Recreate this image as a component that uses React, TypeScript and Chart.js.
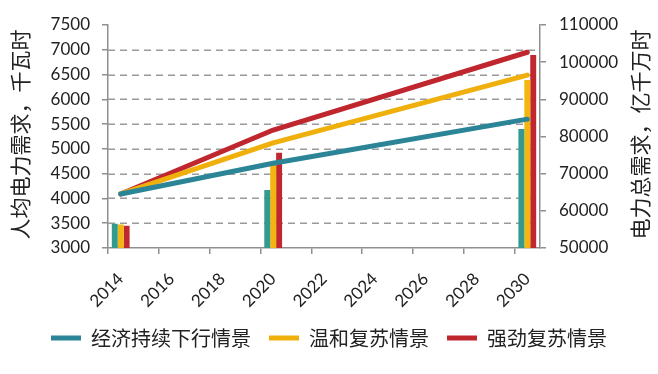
import React, { useEffect, useRef } from 'react';
import { Chart, registerables } from 'chart.js';

Chart.register(...registerables);

// ---- data ----
const categories = ['2014', '2015', '2016', '2017', '2018', '2019', '2020', '2021', '2022', '2023', '2024', '2025', '2026', '2027', '2028', '2029', '2030'];
const dataYears = ['2014', '2020', '2030'];
const seriesNames = ['经济持续下行情景', '温和复苏情景', '强劲复苏情景'];

// per-capita demand (left axis, kWh) – lines
const perCapitaSlow = [4090, 4710, 5600];
const perCapitaModerate = [4090, 5120, 6490];
const perCapitaStrong = [4090, 5380, 6950];

// total demand (right axis, 亿千瓦时) – bars
const totalSlow = [56500, 65600, 82000];
const totalModerate = [56300, 72300, 95200];
const totalStrong = [56000, 75600, 101900];

const leftMin = 3000;
const leftMax = 7500;
const leftStep = 500;
const rightMin = 50000;
const rightMax = 110000;
const rightStep = 10000;

const leftTitle = '人均电力需求，千瓦时';
const rightTitle = '电力总需求，亿千万时';

// ---- styles ----
const lineColors = ['#2b8596', '#f0b00c', '#c0262d'];
const barColors = ['#349a8f', '#f3b60f', '#c0272e'];
const axisGrey = '#8f8f8f';
const gridGrey = '#9a9a9a';
const textColor = '#222222';
const numFont = 'Lato, "Noto Sans", sans-serif';
const cjkFont = '"Noto Sans CJK SC", sans-serif';

// dashed horizontal grid lines at the left axis ticks (drawn from the scale's own tick pixels)
const dashedGridPlugin = {
  id: 'dashedGrid',
  beforeDatasetsDraw(chart: any) {
    const { ctx, chartArea, scales } = chart;
    const ys = scales.y;
    ctx.save();
    ctx.strokeStyle = gridGrey;
    ctx.lineWidth = 1.5;
    ctx.setLineDash([7, 5]);
    ys.ticks.forEach((t: any) => {
      if (t.value === leftMax || t.value === leftMin) return;
      const py = Math.round(ys.getPixelForValue(t.value)) + 0.25;
      ctx.beginPath();
      ctx.moveTo(chartArea.left, py);
      ctx.lineTo(chartArea.right, py);
      ctx.stroke();
    });
    ctx.restore();
  },
};

const titlePlugin = {
  id: 'sideTitles',
  afterDraw(chart: any) {
    const { ctx, chartArea, scales } = chart;
    const cy = (chartArea.top + chartArea.bottom) / 2 - 2;
    ctx.save();
    ctx.font = '21px ' + cjkFont;
    ctx.fillStyle = textColor;
    ctx.textAlign = 'center';
    ctx.textBaseline = 'middle';
    ctx.save();
    ctx.translate(scales.y.left + 20, cy);
    ctx.rotate(-Math.PI / 2);
    ctx.fillText(leftTitle, 0, 0);
    ctx.restore();
    ctx.save();
    ctx.translate(scales.y1.right - 18, cy);
    ctx.rotate(-Math.PI / 2);
    ctx.fillText(rightTitle, 0, 0);
    ctx.restore();
    ctx.restore();
  },
};

export default function App() {
  const ref = useRef<HTMLCanvasElement>(null);

  useEffect(() => {
    const canvas = ref.current;
    if (!canvas) return;
    const toPoints = (vals: number[]) => dataYears.map((yr, i) => ({ x: yr, y: vals[i] }));
    const lineDs = (label: string, vals: number[], color: string) => ({
      type: 'line' as const,
      label,
      data: toPoints(vals),
      borderColor: color,
      backgroundColor: color,
      borderWidth: 5,
      pointRadius: 0,
      pointHoverRadius: 0,
      tension: 0,
      spanGaps: true,
      borderCapStyle: 'round' as const,
      borderJoinStyle: 'round' as const,
      yAxisID: 'y',
      order: 0,
    });
    const barDs = (label: string, vals: number[], color: string) => ({
      type: 'bar' as const,
      label,
      data: toPoints(vals),
      backgroundColor: color,
      borderWidth: 0,
      yAxisID: 'y1',
      order: 1,
      categoryPercentage: 0.7,
      barPercentage: 1,
    });

    const chart = new Chart(canvas, {
      type: 'bar',
      data: {
        labels: categories,
        datasets: [
          lineDs(seriesNames[0], perCapitaSlow, lineColors[0]),
          lineDs(seriesNames[1], perCapitaModerate, lineColors[1]),
          lineDs(seriesNames[2], perCapitaStrong, lineColors[2]),
          barDs(seriesNames[0], totalSlow, barColors[0]),
          barDs(seriesNames[1], totalModerate, barColors[1]),
          barDs(seriesNames[2], totalStrong, barColors[2]),
        ] as any,
      },
      options: {
        responsive: false,
        animation: false,
        layout: { padding: { top: 25, left: 0, right: 0, bottom: 16 } },
        plugins: {
          tooltip: { enabled: false },
          legend: {
            position: 'bottom',
            labels: {
              filter: (item: any) => item.datasetIndex < 3,
              usePointStyle: true,
              pointStyle: 'line',
              pointStyleWidth: 30,
              boxHeight: 20,
              padding: 18,
              color: textColor,
              font: { family: cjkFont, size: 20 },
            },
          },
        },
        scales: {
          x: {
            type: 'category',
            offset: true,
            grid: {
              offset: true,
              drawOnChartArea: false,
              tickLength: 6,
              lineWidth: 1.5,
              tickColor: (c: any) => (c.index % 2 === 0 ? axisGrey : 'rgba(0,0,0,0)'),
            },
            border: { color: axisGrey, width: 1.5 },
            ticks: {
              autoSkip: false,
              maxRotation: 45,
              minRotation: 45,
              padding: 15,
              color: textColor,
              font: { family: numFont, size: 17 },
              callback: (_v: any, idx: number) => (idx % 2 === 0 ? categories[idx] : ''),
            },
            afterFit: (s: any) => {
              s.height = 62;
            },
          },
          y: {
            type: 'linear',
            position: 'left',
            min: leftMin,
            max: leftMax,
            grid: {
              drawOnChartArea: false,
              lineWidth: 1.5,
              tickColor: axisGrey,
              tickLength: 6,
            },
            border: { color: axisGrey, width: 1.5 },
            ticks: {
              stepSize: leftStep,
              padding: 12,
              color: textColor,
              font: { family: numFont, size: 17 },
              callback: (v: any) => String(v),
            },
            afterFit: (s: any) => {
              s.width = 108;
            },
          },
          y1: {
            type: 'linear',
            position: 'right',
            min: rightMin,
            max: rightMax,
            grid: {
              drawOnChartArea: false,
              tickColor: axisGrey,
              tickLength: 6,
              lineWidth: 1.5,
            },
            border: { color: axisGrey, width: 1.5 },
            ticks: {
              stepSize: rightStep,
              padding: 13,
              color: textColor,
              font: { family: numFont, size: 17 },
              callback: (v: any) => String(v),
            },
            afterFit: (s: any) => {
              s.width = 118;
            },
          },
        },
      } as any,
      plugins: [dashedGridPlugin, titlePlugin],
    });
    return () => chart.destroy();
  }, []);

  return (
    <div style={{ position: 'absolute', left: 0, top: 0, width: 658, height: 374, background: '#ffffff' }}>
      <canvas ref={ref} width={658} height={374} style={{ display: 'block' }} />
    </div>
  );
}
